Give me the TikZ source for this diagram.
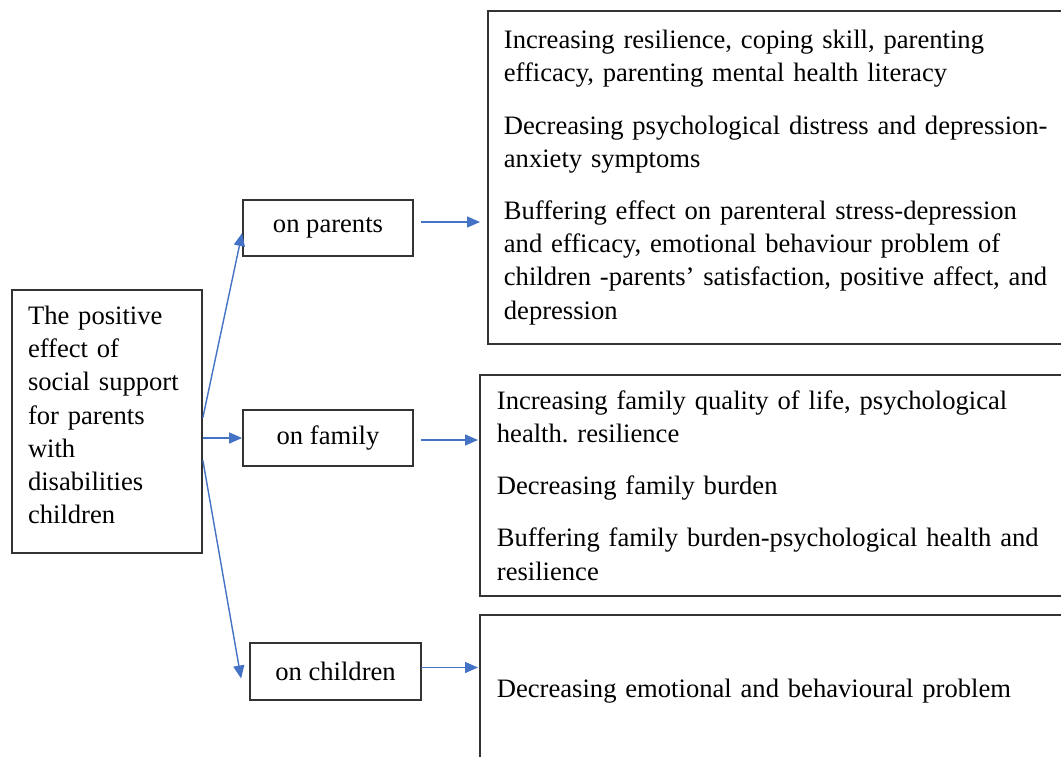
\documentclass[tikz,border=0pt]{standalone}
\usepackage{fontspec}
\setmainfont{Liberation Serif}
\newfontfamily\timesfont{Liberation Serif}
\usetikzlibrary{arrows.meta}
\definecolor{arrblue}{HTML}{4472C4}
\frenchspacing

\begin{document}
\begin{tikzpicture}[x=0.5pt,y=-0.5pt,
    txt/.style={inner sep=0pt, font=\timesfont\fontsize{13.3}{16.6}\selectfont},
    box/.style={txt, draw=black!80, line width=0.9pt},
    outbox/.style={box, anchor=north west, align=left, inner xsep=8pt,
        minimum width=300pt},
    arr/.style={arrblue, line width=0.7pt, -{Triangle[length=6.5pt,width=5.5pt]}}]

    \useasboundingbox (0,0) rectangle (1061,756);
    \clip (0,0) rectangle (1061,756);

    % Draw the main box
    \node[box, minimum width=95pt, minimum height=131.5pt] (main) at (107,421.5) {};
    \node[txt, align=left, text width=79pt] (mainText) at ([yshift=3.25pt]main.center)
        {The positive\\effect of\\social support\\for parents\\with\\disabilities\\children};

    % Draw the middle boxes
    \node[box, minimum width=85pt, minimum height=28pt] (onP) at (328,228) {on parents};
    \node[box, minimum width=85pt, minimum height=28pt] (onF) at (328,438) {on family};
    \node[box, minimum width=85.5pt, minimum height=28.5pt] (onC) at (335.5,671.5) {on children};

    % Draw the effect boxes
    \node[outbox, text width=284pt, minimum height=166.5pt] (effP) at (487,10)
        {Increasing resilience, coping skill, parenting\\efficacy, parenting mental health literacy\\[9.5pt]
         Decreasing psychological distress and depression-\\anxiety symptoms\\[9.5pt]
         Buffering effect on parenteral stress-depression\\and efficacy, emotional behaviour problem of\\children -parents’ satisfaction, positive affect, and\\depression};
    \node[outbox, inner xsep=8.5pt, text width=283pt, minimum height=110.5pt] (effF) at (479,374)
        {Increasing family quality of life, psychological\\health. resilience\\[9.5pt]
         Decreasing family burden\\[9.5pt]
         Buffering family burden-psychological health and\\resilience};
    \node[outbox, inner xsep=8.5pt, text width=283pt, minimum height=76pt] (effC) at (479,614)
        {Decreasing emotional and behavioural problem};

    % Draw the arrows
    \draw[arr] ([yshift=2pt]main.east) -- ([yshift=-2.5pt]onP.west);
    \draw[arr] (main.east |- onF.west) -- (onF.west);
    \draw[arr] ([yshift=-19.5pt]main.east) -- ([xshift=-4pt,yshift=-3.5pt]onC.west);
    \draw[arr] ([xshift=3.5pt,yshift=3pt]onP.east) -- ([xshift=-3.5pt,yshift=3pt]effP.west |- onP.east);
    \draw[arr] ([xshift=3.5pt,yshift=-1pt]onF.east) -- ([xshift=-0.5pt,yshift=-1pt]effF.west |- onF.east);
    \draw[arr] ([xshift=-0.5pt,yshift=2pt]onC.east) -- ([xshift=-0.5pt,yshift=2pt]effC.west |- onC.east);
\end{tikzpicture}
\end{document}
